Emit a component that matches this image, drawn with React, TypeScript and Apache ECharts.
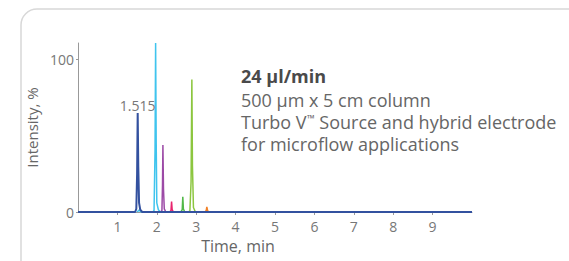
import React, { useEffect, useRef } from "react";
import * as echarts from "echarts";

const xTickValues = [1, 2, 3, 4, 5, 6, 7, 8, 9];
const yTickValues = [0, 100];

const bluePeak = [
  [0, 0], [1.45, 0], [1.48, 2], [1.5, 25], [1.515, 65], [1.53, 30], [1.55, 6], [1.58, 1.5], [1.63, 0], [10, 0],
];
const cyanPeak = [
  [1.5, 0], [1.55, 1.2], [1.6, 0], [1.9, 0], [1.93, 1], [1.955, 40], [1.97, 111], [1.985, 45], [2.0, 6], [2.04, 1.5], [2.09, 0],
];
const purplePeak = [[2.1, 0], [2.13, 1], [2.145, 18], [2.155, 44], [2.17, 15], [2.19, 2], [2.23, 0]];
const pinkPeak = [[2.33, 0], [2.36, 1], [2.375, 6.8], [2.39, 1.5], [2.42, 0]];
const greenPeak = [[2.61, 0], [2.645, 1.5], [2.66, 10], [2.675, 2], [2.71, 0]];
const limePeak = [[2.8, 0], [2.84, 0.8], [2.87, 20], [2.89, 87], [2.905, 30], [2.93, 3], [2.98, 0]];
const orangePeak = [[3.22, 0], [3.255, 1], [3.27, 3.3], [3.29, 0.8], [3.33, 0]];

const peakLabelPoint = [1.515, 65];
const peakLabelText = "1.515";

const infoTitle = "24 µl/min";
const infoLine1 = "500 µm x 5 cm column";
const infoLine2a = "Turbo V";
const infoLine2tm = "™";
const infoLine2b = " Source and hybrid electrode";
const infoLine3 = "for microflow applications";

const FONT = "'Open Sans', 'Noto Sans', sans-serif";

function measure(text: string, size: number): number {
  const c = document.createElement("canvas").getContext("2d");
  if (!c) return text.length * size * 0.55;
  c.font = size + "px " + FONT;
  return c.measureText(text).width;
}

export default function App() {
  const ref = useRef<HTMLDivElement>(null);
  useEffect(() => {
    if (!ref.current) return;
    const chart = echarts.init(ref.current, null, { renderer: "svg" });
    const mk = (data: number[][], color: string, width: number, z: number) => ({
      type: "line",
      data,
      showSymbol: false,
      symbol: "none",
      lineStyle: { color, width },
      itemStyle: { color },
      z,
    });
    const lineY = [76, 100, 122, 144];
    const textX = 241;
    const bodyStyle = { fontSize: 18, fill: "#666", fontFamily: FONT, verticalAlign: "middle" };
    const w2a = measure(infoLine2a, 18);
    const wTm = measure(infoLine2tm, 10);
    chart.setOption({
      animation: false,
      backgroundColor: "#ffffff",
      textStyle: { fontFamily: FONT },
      grid: { left: 78, right: 97, top: 43, bottom: 49 },
      xAxis: {
        type: "value",
        min: 0,
        max: 10,
        interval: 1,
        name: "Time, min",
        nameLocation: "middle",
        nameGap: 19,
        nameTextStyle: { fontSize: 16, color: "#666", fontFamily: FONT, padding: [0, 74, 0, 0] },
        axisLine: { show: true, lineStyle: { color: "#999", width: 1 } },
        axisTick: { show: true, length: 3, customValues: xTickValues, lineStyle: { color: "#999" } },
        axisLabel: { fontSize: 14, color: "#777", fontFamily: FONT, margin: 7, customValues: xTickValues },
        splitLine: { show: false },
      },
      yAxis: {
        type: "value",
        min: 0,
        max: 111,
        interval: 100,
        name: "Intensity, %",
        nameLocation: "middle",
        nameGap: 17,
        nameTextStyle: { fontSize: 15, color: "#666", fontFamily: FONT },
        axisLine: { show: true, lineStyle: { color: "#999", width: 1 } },
        axisTick: { show: true, length: 2, customValues: yTickValues, lineStyle: { color: "#999" } },
        axisLabel: { fontSize: 14, color: "#777", fontFamily: FONT, margin: 4, customValues: yTickValues },
        splitLine: { show: false },
      },
      series: [
        mk(cyanPeak, "#3fc4ee", 1.5, 2),
        mk(purplePeak, "#9c4aa6", 1.5, 2),
        mk(pinkPeak, "#e8246d", 1.5, 2),
        mk(greenPeak, "#52b848", 1.5, 2),
        mk(limePeak, "#8cc63f", 1.5, 2),
        mk(orangePeak, "#f28228", 1.5, 2),
        {
          ...mk(bluePeak, "#33519f", 2, 3),
          markPoint: {
            symbol: "circle",
            symbolSize: 0,
            data: [{ coord: peakLabelPoint, value: peakLabelText }],
            label: {
              show: true,
              position: "top",
              distance: 1,
              formatter: peakLabelText,
              fontSize: 14,
              color: "#777",
              fontFamily: FONT,
            },
          },
        },
      ],
      graphic: [
        {
          type: "rect",
          shape: { x: 21, y: 9, width: 620, height: 300, r: 16 },
          style: { fill: "none", stroke: "#d8d8d8", lineWidth: 1.5 },
          z: -1,
          silent: true,
        },
        {
          type: "text",
          x: textX,
          y: lineY[0],
          style: {
            text: infoTitle,
            fontSize: 18,
            fontWeight: "bold",
            fill: "#4a4a4a",
            fontFamily: FONT,
            verticalAlign: "middle",
          },
        },
        { type: "text", x: textX, y: lineY[1], style: { ...bodyStyle, text: infoLine1 } },
        { type: "text", x: textX, y: lineY[2], style: { ...bodyStyle, text: infoLine2a } },
        {
          type: "text",
          x: textX + w2a + 0.5,
          y: lineY[2] - 4,
          style: { fontSize: 10, fill: "#666", fontFamily: FONT, verticalAlign: "middle", text: infoLine2tm },
        },
        { type: "text", x: textX + w2a + wTm + 0.5, y: lineY[2], style: { ...bodyStyle, text: infoLine2b } },
        { type: "text", x: textX, y: lineY[3], style: { ...bodyStyle, text: infoLine3 } },
      ],
    });
    return () => chart.dispose();
  }, []);
  return (
    <div
      ref={ref}
      style={{ position: "absolute", left: 0, top: 0, width: 569, height: 261 }}
    />
  );
}
